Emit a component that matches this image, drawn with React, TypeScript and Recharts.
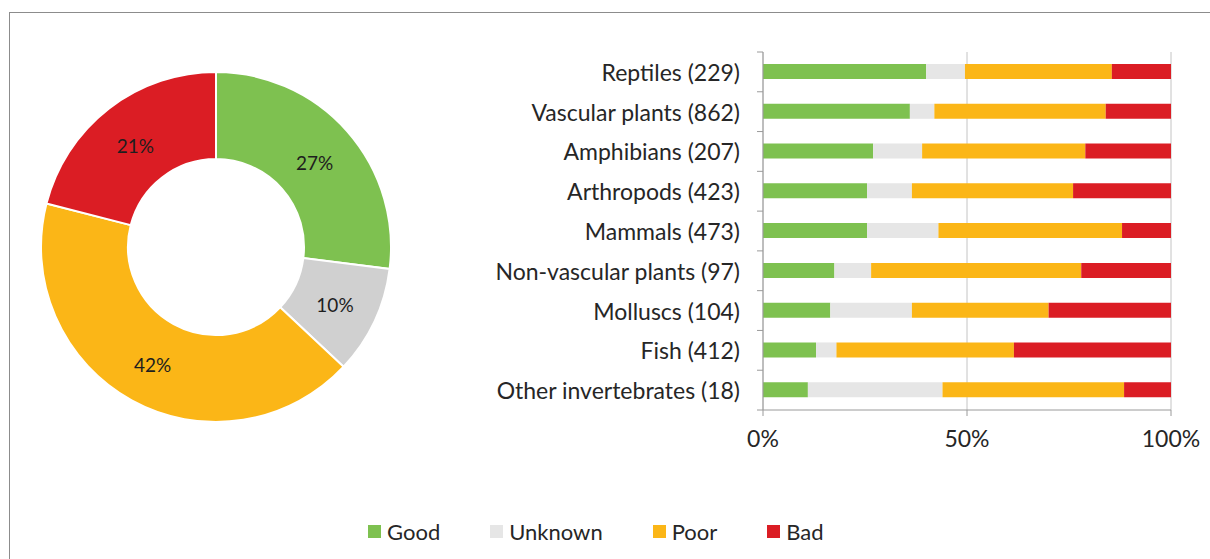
import { PieChart, Pie, Cell, BarChart, Bar, XAxis, YAxis, CartesianGrid, Legend } from 'recharts';

// share of species in each status, per group (percent of group total)
const CATEGORIES = [
    'Reptiles (229)',
    'Vascular plants (862)',
    'Amphibians (207)',
    'Arthropods (423)',
    'Mammals (473)',
    'Non-vascular plants (97)',
    'Molluscs (104)',
    'Fish (412)',
    'Other invertebrates (18)',
];
const GOOD = [40, 36, 27, 25.5, 25.5, 17.5, 16.5, 13, 11];
const UNKNOWN = [9.5, 6, 12, 11, 17.5, 9, 20, 5, 33];
const POOR = [36, 42, 40, 39.5, 45, 51.5, 33.5, 43.5, 44.5];
const BAD = [14.5, 16, 21, 24, 12, 22, 30, 38.5, 11.5];

// overall split shown in the donut
const STATUS = ['Good', 'Unknown', 'Poor', 'Bad'];
const OVERALL = [27, 10, 42, 21];

const X_TICKS = [0, 50, 100];

const BAR_COLORS: Record<string, string> = {
    Good: '#7ec150',
    Unknown: '#e6e6e6',
    Poor: '#fbb617',
    Bad: '#db1d24',
};
const PIE_COLORS: Record<string, string> = { ...BAR_COLORS, Unknown: '#d0d0d0' };

const TEXT = '#262626';
const AXIS = '#9a9a9a';
const FONT = 'Lato, "Open Sans", sans-serif';

const PLOT_TOP = 52;
const PLOT_BOTTOM = 410;
const BAND = (PLOT_BOTTOM - PLOT_TOP) / CATEGORIES.length;

const rows = CATEGORIES.map((name, i) => ({
    name,
    Good: GOOD[i],
    Unknown: UNKNOWN[i],
    Poor: POOR[i],
    Bad: BAD[i],
}));

const pieData = STATUS.map((name, i) => ({ name, value: OVERALL[i] }));

const RADIAN = Math.PI / 180;

function PieLabel({ cx, cy, midAngle, innerRadius, outerRadius, value }: any) {
    const r = (innerRadius + outerRadius) / 2;
    const x = cx + r * Math.cos(-midAngle * RADIAN);
    const y = cy + r * Math.sin(-midAngle * RADIAN) + 2;
    return (
        <text x={x} y={y} textAnchor="middle" dominantBaseline="central" fontSize={19} fill="#1e1e1e" fontFamily={FONT}>
            {value}%
        </text>
    );
}

// category label plus the small tick marks that sit between the bands
function CategoryTick({ x, y, payload, index }: any) {
    const half = BAND / 2;
    return (
        <g>
            {index === 0 && <line x1={x} x2={x + 6} y1={y - half} y2={y - half} stroke={AXIS} />}
            <line x1={x} x2={x + 6} y1={y + half} y2={y + half} stroke={AXIS} />
            <text x={x - 17} y={y} textAnchor="end" dominantBaseline="central" fontSize={23} fill={TEXT} fontFamily={FONT}>
                {payload.value}
            </text>
        </g>
    );
}

function LegendContent({ payload }: any) {
    const items = [...(payload || [])].sort((a: any, b: any) => STATUS.indexOf(a.value) - STATUS.indexOf(b.value));
    return (
        <div style={{ display: 'flex', alignItems: 'center', fontFamily: FONT, fontSize: 22, color: TEXT }}>
            {items.map((entry: any) => (
                <div key={entry.value} style={{ display: 'flex', alignItems: 'center', marginRight: 50 }}>
                    <span style={{ width: 13, height: 13, background: BAR_COLORS[entry.value], marginRight: 6, display: 'inline-block' }} />
                    <span>{entry.value}</span>
                </div>
            ))}
        </div>
    );
}

export default function App() {
    return (
        <div style={{ position: 'absolute', left: 0, top: 0, width: 1210, height: 559, background: '#fff', overflow: 'hidden' }}>
            <div
                style={{
                    position: 'absolute',
                    left: 9,
                    top: 12,
                    right: -10,
                    bottom: -10,
                    borderTop: '1px solid #8c8c8c',
                    borderLeft: '1px solid #8c8c8c',
                }}
            />

            <div style={{ position: 'absolute', left: 0, top: 0 }}>
                <BarChart
                    width={1210}
                    height={559}
                    data={rows}
                    layout="vertical"
                    margin={{ top: PLOT_TOP, right: 39, left: 0, bottom: 559 - PLOT_BOTTOM - 40 }}
                >
                    <CartesianGrid horizontal={false} vertical={true} stroke="#c4c4c4" />
                    <XAxis
                        type="number"
                        domain={[0, 100]}
                        ticks={X_TICKS}
                        height={40}
                        tickFormatter={(v: number) => `${v}%`}
                        tick={{ fontSize: 23, fill: TEXT, fontFamily: FONT }}
                        tickSize={6}
                        tickMargin={15}
                        axisLine={{ stroke: AXIS }}
                        tickLine={{ stroke: AXIS }}
                    />
                    <YAxis
                        type="category"
                        dataKey="name"
                        width={763}
                        interval={0}
                        tick={<CategoryTick />}
                        tickLine={false}
                        tickSize={6}
                        tickMargin={0}
                        axisLine={{ stroke: AXIS }}
                    />
                    <Legend
                        verticalAlign="middle"
                        align="center"
                        content={<LegendContent />}
                        wrapperStyle={{ top: 518, left: 368, width: 800, height: 28 }}
                    />
                    {STATUS.map((s) => (
                        <Bar key={s} dataKey={s} name={s} stackId="status" fill={BAR_COLORS[s]} barSize={15} isAnimationActive={false} />
                    ))}
                </BarChart>
            </div>

            <div style={{ position: 'absolute', left: 0, top: 0 }}>
                <PieChart width={432} height={494} margin={{ top: 0, right: 0, bottom: 0, left: 0 }}>
                    <Pie
                        data={pieData}
                        dataKey="value"
                        nameKey="name"
                        cx={216}
                        cy={247}
                        innerRadius={88}
                        outerRadius={175}
                        startAngle={90}
                        endAngle={-270}
                        stroke="#ffffff"
                        strokeWidth={2}
                        label={PieLabel}
                        labelLine={false}
                        isAnimationActive={false}
                    >
                        {pieData.map((d) => (
                            <Cell key={d.name} fill={PIE_COLORS[d.name]} />
                        ))}
                    </Pie>
                </PieChart>
            </div>
        </div>
    );
}
